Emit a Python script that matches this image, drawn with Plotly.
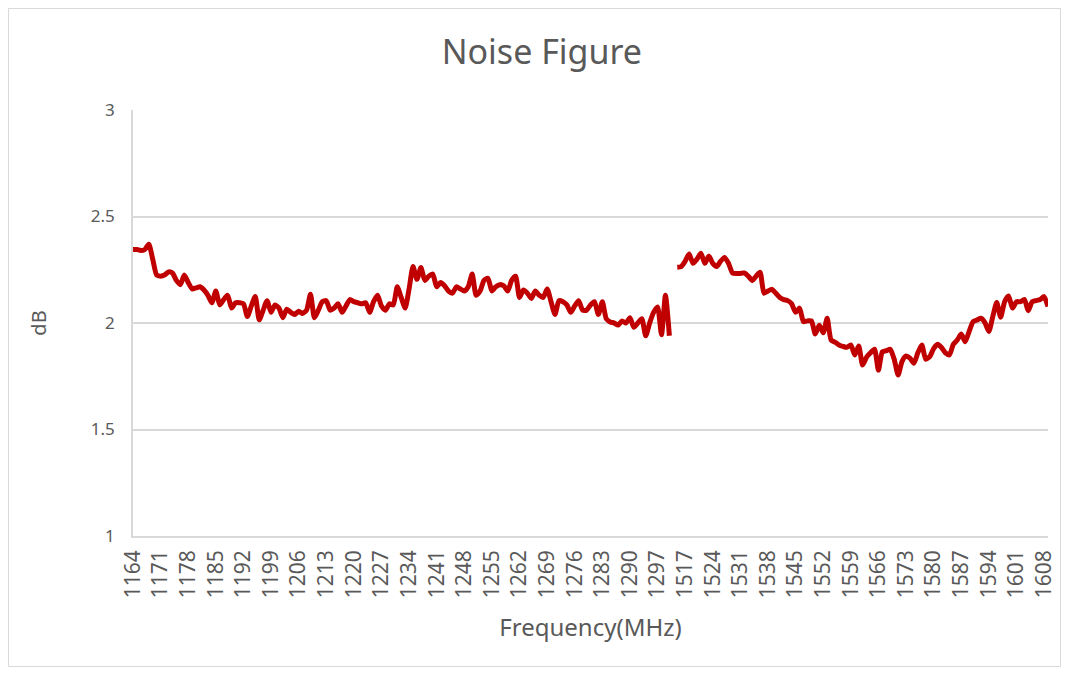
import plotly.graph_objects as go

# ---- data ----
freq_low = [str(f) for f in range(1164, 1301)]          # 1164 .. 1300
freq_high = [str(f) for f in range(1515, 1610)]         # 1515 .. 1609
gap_label = " "

nf_low = [
    2.345, 2.345, 2.34, 2.345, 2.37, 2.30, 2.225, 2.22, 2.225, 2.24,
    2.235, 2.20, 2.18, 2.225, 2.19, 2.16, 2.165, 2.17, 2.155, 2.13,
    2.095, 2.15, 2.085, 2.11, 2.13, 2.07, 2.095, 2.095, 2.09, 2.03,
    2.08, 2.125, 2.015, 2.06, 2.105, 2.05, 2.085, 2.07, 2.025, 2.065,
    2.05, 2.04, 2.055, 2.045, 2.06, 2.135, 2.025, 2.06, 2.10, 2.105,
    2.06, 2.07, 2.09, 2.05, 2.08, 2.11, 2.10, 2.095, 2.09, 2.095,
    2.05, 2.10, 2.13, 2.08, 2.06, 2.09, 2.085, 2.17, 2.12, 2.07,
    2.16, 2.265, 2.205, 2.26, 2.20, 2.22, 2.23, 2.17, 2.19, 2.175,
    2.15, 2.14, 2.17, 2.16, 2.15, 2.17, 2.23, 2.13, 2.15, 2.20,
    2.21, 2.15, 2.17, 2.18, 2.175, 2.15, 2.20, 2.22, 2.12, 2.155,
    2.14, 2.115, 2.15, 2.13, 2.12, 2.16, 2.10, 2.04, 2.105, 2.10,
    2.085, 2.05, 2.08, 2.105, 2.06, 2.06, 2.085, 2.10, 2.04, 2.10,
    2.02, 2.005, 2.00, 1.99, 2.01, 2.00, 2.025, 1.98, 2.00, 2.02,
    1.94, 2.00, 2.05, 2.075, 1.945, 2.13, 1.94,
]

nf_high = [
    2.262, 2.265, 2.29, 2.324, 2.28, 2.30, 2.327, 2.28, 2.315, 2.28,
    2.265, 2.29, 2.308, 2.28, 2.235, 2.232, 2.233, 2.235, 2.22, 2.20,
    2.22, 2.238, 2.14, 2.15, 2.158, 2.14, 2.12, 2.11, 2.105, 2.09,
    2.05, 2.07, 2.006, 2.01, 2.01, 1.948, 1.99, 1.954, 2.022, 1.92,
    1.91, 1.897, 1.89, 1.886, 1.897, 1.85, 1.892, 1.803, 1.84, 1.86,
    1.877, 1.779, 1.865, 1.87, 1.877, 1.83, 1.756, 1.82, 1.845, 1.835,
    1.811, 1.86, 1.897, 1.83, 1.842, 1.88, 1.90, 1.885, 1.86, 1.85,
    1.90, 1.92, 1.948, 1.912, 1.96, 2.006, 2.014, 2.022, 2.002, 1.96,
    2.03, 2.096, 2.027, 2.10, 2.127, 2.07, 2.10, 2.10, 2.111, 2.058,
    2.10, 2.105, 2.11, 2.124, 2.077,
]

categories = freq_low + [gap_label] + freq_high
values = nf_low + [None] + nf_high
tick_labels = [c for i, c in enumerate(categories) if i % 7 == 0 and c != gap_label]

title_text = "Noise Figure"
x_title = "Frequency(MHz)"
y_title = "dB"

# ---- styling ----
FONT = "Noto Sans"
TXT = "#595959"
GRID = "#D9D9D9"
W, H = 1053, 659
ML, MR, MT, MB = 125, 13, 102, 131
PW, PH = W - ML - MR, H - MT - MB

fig = go.Figure()
fig.add_trace(go.Scatter(
    x=categories, y=values, mode="lines",
    line=dict(color="#C00000", width=5, shape="spline", smoothing=0.6),
    connectgaps=False, showlegend=False, hoverinfo="x+y",
))

fig.update_layout(
    width=W, height=H,
    margin=dict(l=ML, r=MR, t=MT, b=MB, autoexpand=False),
    paper_bgcolor="white", plot_bgcolor="white",
    font=dict(family=FONT, color=TXT),
    title=dict(text=title_text, x=0.507, xref="container", xanchor="center",
               y=1 - 44 / H, yref="container", yanchor="middle",
               font=dict(family=FONT, size=34, color=TXT)),
    shapes=[dict(type="rect", xref="paper", yref="paper",
                 x0=(0.5 - ML) / PW, x1=(W - 0.5 - ML) / PW,
                 y0=(PH + MT - (H - 0.5)) / PH, y1=(PH + MT - 0.5) / PH,
                 line=dict(color=GRID, width=1), fillcolor="rgba(0,0,0,0)",
                 layer="below")],
)

fig.update_xaxes(
    type="category", categoryorder="array", categoryarray=categories,
    range=[0, len(categories) - 1], automargin=False,
    tickmode="array", tickvals=tick_labels, ticktext=tick_labels,
    tickangle=-90, tickfont=dict(family=FONT, size=21, color=TXT),
    ticklabelstandoff=4,
    showgrid=False, showline=True, linecolor=GRID, linewidth=1.5,
    ticks="", zeroline=False,
    title=dict(text=x_title, font=dict(family=FONT, size=24, color=TXT), standoff=22),
)
fig.update_yaxes(
    range=[1, 3], dtick=0.5, tick0=1, automargin=False,
    tickfont=dict(family=FONT, size=17, color=TXT),
    showgrid=True, gridcolor=GRID, gridwidth=1.5,
    showline=True, linecolor=GRID, linewidth=1.5,
    ticks="", zeroline=False, ticklabelstandoff=13,
    title=dict(text=y_title, font=dict(family=FONT, size=20, color=TXT), standoff=39),
)

fig.write_html("out.html")
